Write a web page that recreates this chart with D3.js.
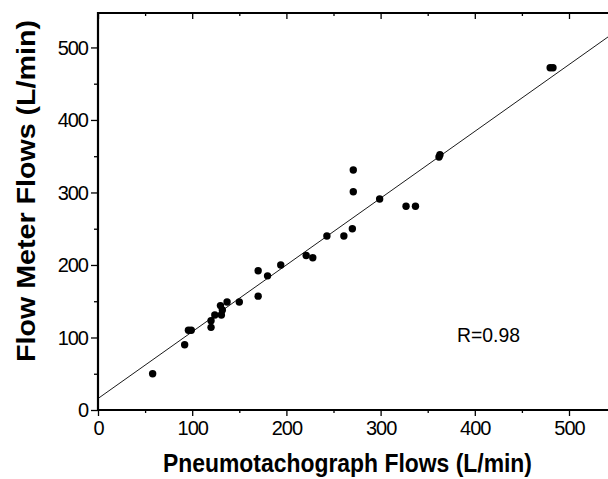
<!DOCTYPE html>
<html>
<head>
<meta charset="utf-8">
<script src="https://cdn.jsdelivr.net/npm/d3@7"></script>
<style>
  html, body { margin: 0; padding: 0; background: #fff; }
  svg { display: block; }
  text { font-family: "Liberation Sans", Arial, sans-serif; fill: #000; }
</style>
</head>
<body>
<svg id="chart" width="608" height="479"></svg>
<script>
// ---- data ----
const flowPneumo = [58, 92, 96, 99, 120, 120, 124, 131, 130, 132, 137, 150, 170, 170, 180, 194, 221, 228, 243, 261, 270, 271, 271, 299, 327, 337, 362, 363, 480, 483];
const flowMeter  = [50, 90, 110, 110, 114, 123, 131, 131, 144, 138, 149, 149, 157, 192, 185, 200, 213, 210, 240, 240, 250, 301, 331, 291, 281, 281, 349, 352, 472, 472];
const fitX = [0, 560];
const fitY = [15.8, 531.6];
const majorTicks = [0, 100, 200, 300, 400, 500];
const minorTicks = [50, 150, 250, 350, 450, 550];
const xTitle = "Pneumotachograph Flows (L/min)";
const yTitle = "Flow Meter Flows (L/min)";
const rLabel = "R=0.98";

const svg = d3.select("#chart");
const pLeft = 98, pRight = 616, pTop = 13, pBottom = 410;

const x = d3.scaleLinear().domain([0, 550]).range([pLeft, pLeft + 550 * 0.942]);
const y = d3.scaleLinear().domain([0, 547.5]).range([pBottom, pTop]);

svg.append("defs").append("clipPath").attr("id", "plotclip")
  .append("rect").attr("x", pLeft).attr("y", pTop).attr("width", pRight - pLeft).attr("height", pBottom - pTop);

// fit line
const pts = fitX.map((v, i) => [v, fitY[i]]);
svg.append("path")
  .attr("clip-path", "url(#plotclip)")
  .attr("d", d3.line().x(d => x(d[0])).y(d => y(d[1]))(pts))
  .attr("fill", "none").attr("stroke", "#000").attr("stroke-width", 0.9);

// points
svg.append("g").selectAll("circle")
  .data(flowPneumo.map((v, i) => [v, flowMeter[i]]))
  .join("circle")
  .attr("cx", d => x(d[0])).attr("cy", d => y(d[1]))
  .attr("r", 3.7).attr("fill", "#000");

function styleAxis(g) {
  g.selectAll(".domain").remove();
  g.selectAll(".tick line").attr("stroke", "#000").attr("stroke-width", 1.3);
}

// left axis
const gy = svg.append("g").attr("transform", `translate(${pLeft},0)`)
  .call(d3.axisLeft(y).tickValues(majorTicks).tickSize(7).tickPadding(3).tickFormat(d3.format("d")));
styleAxis(gy);
gy.selectAll("text").style("font-size", "20px").style("letter-spacing", "-1px").attr("dy", "0.34em");
svg.append("g").attr("transform", `translate(${pLeft},0)`)
  .call(d3.axisLeft(y).tickValues(minorTicks.filter(v => v < 547)).tickSize(4).tickFormat(""))
  .call(styleAxis);

// bottom axis
const gx = svg.append("g").attr("transform", `translate(0,${pBottom})`)
  .call(d3.axisBottom(x).tickValues(majorTicks).tickSize(6).tickPadding(5).tickFormat(d3.format("d")));
styleAxis(gx);
gx.selectAll("text").style("font-size", "20px").style("letter-spacing", "-1px");
svg.append("g").attr("transform", `translate(0,${pBottom})`)
  .call(d3.axisBottom(x).tickValues(minorTicks).tickSize(3).tickFormat(""))
  .call(styleAxis);

// top axis (inward ticks)
svg.append("g").attr("transform", `translate(0,${pTop})`)
  .call(d3.axisBottom(x).tickValues(majorTicks).tickSize(6).tickFormat(""))
  .call(styleAxis);
svg.append("g").attr("transform", `translate(0,${pTop})`)
  .call(d3.axisBottom(x).tickValues(minorTicks).tickSize(3).tickFormat(""))
  .call(styleAxis);

// frame lines
svg.append("line").attr("x1", pLeft).attr("x2", pLeft).attr("y1", pTop - 1).attr("y2", pBottom + 1)
  .attr("stroke", "#000").attr("stroke-width", 2.2);
svg.append("line").attr("x1", pLeft - 1).attr("x2", pRight).attr("y1", pBottom).attr("y2", pBottom)
  .attr("stroke", "#000").attr("stroke-width", 2.2);
svg.append("line").attr("x1", pLeft - 1).attr("x2", pRight).attr("y1", pTop).attr("y2", pTop)
  .attr("stroke", "#000").attr("stroke-width", 1.8);

// titles
svg.append("text").text(xTitle)
  .attr("x", 163).attr("y", 472)
  .attr("textLength", 369).attr("lengthAdjust", "spacingAndGlyphs")
  .style("font-size", "26px").style("font-weight", "bold");

svg.append("text").text(yTitle)
  .attr("transform", "translate(35,362) rotate(-90)")
  .attr("textLength", 342).attr("lengthAdjust", "spacingAndGlyphs")
  .style("font-size", "26px").style("font-weight", "bold");

svg.append("text").text(rLabel)
  .attr("x", 457).attr("y", 341.5)
  .attr("textLength", 63).attr("lengthAdjust", "spacingAndGlyphs")
  .style("font-size", "20px");
</script>
</body>
</html>
